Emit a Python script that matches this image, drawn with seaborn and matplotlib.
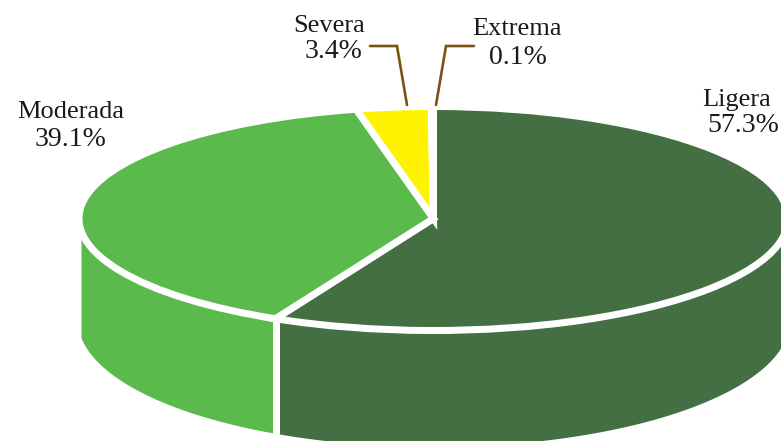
import numpy as np
import seaborn as sns
import matplotlib.pyplot as plt

# Data
labels = ['Ligera', 'Moderada', 'Severa', 'Extrema']
values = [57.3, 39.1, 3.4, 0.1]
colors = ['#446f43', '#5abb4c', '#fff200', '#446f43']

# Layout of the tilted disc, in pixels
W, H = 781, 441
CX, CY = 433.5, 218.5
RX, RY = 354.5, 112
LINE_PX = 7


def px(x, y):
    # pixel position -> unit circle coordinates of the pie
    return (x - CX) / RX, (CY - y) / RY


def main() -> None:
    sns.set_theme(style='white')
    plt.rcParams['font.family'] = ['Liberation Serif', 'DejaVu Sans']
    pal = sns.color_palette(colors)

    fig = plt.figure(figsize=(W / 100, H / 100), dpi=100)
    ax = fig.add_axes([0, 0, 1, 1])

    # top face, the axes limits squash the circle to an ellipse
    ax.pie(values, colors=pal, startangle=90, counterclock=False, radius=1,
           wedgeprops={'edgecolor': 'white', 'linewidth': LINE_PX * 0.72, 'zorder': 3})
    ax.set_aspect('auto')
    ax.set_xlim(-CX / RX, (W - CX) / RX)
    ax.set_ylim((CY - H) / RY, CY / RY)

    # side wall, the lower rim is a flatter and wider ellipse than the top
    ends = np.cumsum(values) / np.sum(values) * 360
    top_r = 352.5 / RX
    low_r, low_c, low_h = 356 / RX, (CY - 320) / RY, 126.5 / RY
    split = top_r * np.sin(np.radians(ends[0]))
    for a, b, c in [(top_r, split, pal[0]), (split, -top_r, pal[1])]:
        x = np.linspace(a, b, 400)
        upper = np.sqrt(1 - (x / top_r) ** 2)
        lower = low_c - low_h * np.sqrt(1 - (x / low_r) ** 2)
        ax.fill_between(x, -upper, lower, color=c, lw=0, zorder=1)
    ax.vlines(split, low_c - low_h - 0.5, 0, color='white', lw=7 * 0.72, zorder=2)

    # leader lines
    brown = '#7b5114'
    for pts in ([(370, 46), (397, 46), (407, 105)], [(474, 46), (446, 46), (436, 105)]):
        xs, ys = zip(*[px(*p) for p in pts])
        ax.plot(xs, ys, color=brown, lw=1.9, solid_joinstyle='miter', zorder=4)

    # labels
    pos = {'Ligera': [(737, 100), (743, 125)],
           'Moderada': [(71, 112), (71, 139)],
           'Severa': [(329, 26), (334, 52)],
           'Extrema': [(517, 29), (518, 57)]}
    for name, v in zip(labels, values):
        (xa, ya), (xb, yb) = pos[name]
        ax.text(*px(xa, ya), name, ha='center', va='center', fontsize=19,
                color='#1a1a1a', zorder=5)
        ax.text(*px(xb, yb), f'{v}%', ha='center', va='center', fontsize=20,
                color='#1a1a1a', zorder=5)

    fig.savefig('out.png', dpi=100)


if __name__ == "__main__":
    main()
